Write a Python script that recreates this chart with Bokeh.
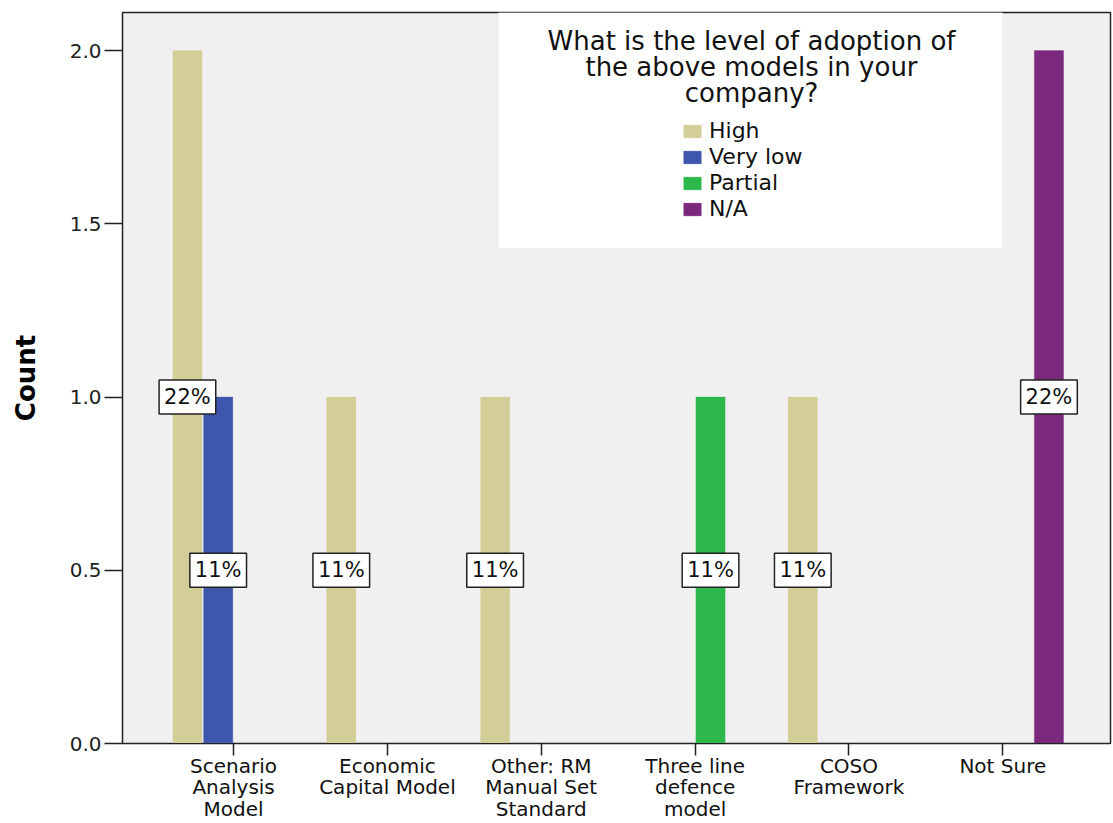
from bokeh.plotting import figure
from bokeh.models import (ColumnDataSource, Label, BoxAnnotation, Legend, LegendItem,
                          FixedTicker, Range1d)
from bokeh.embed import file_html
from bokeh.resources import INLINE

# ---------------- data ----------------
categories = ["Scenario Analysis Model", "Economic Capital Model",
              "Other: RM Manual Set Standard", "Three line defence model",
              "COSO Framework", "Not Sure"]
tick_labels = ["Scenario\nAnalysis\nModel", "Economic\nCapital Model",
               "Other: RM\nManual Set\nStandard", "Three line\ndefence\nmodel",
               "COSO\nFramework", "Not Sure"]
series_names = ["High", "Very low", "Partial", "N/A"]
high = [2, 1, 1, 0, 1, 0]
very_low = [1, 0, 0, 0, 0, 0]
partial = [0, 0, 0, 1, 0, 0]
na = [0, 0, 0, 0, 0, 2]
total_n = 9
legend_title = ["What is the level of adoption of", "the above models in your", "company?"]
y_ticks = [0.0, 0.5, 1.0, 1.5, 2.0]

colors = ["#D3CE97", "#3E56AB", "#2DB84C", "#7B297D"]
series_values = [high, very_low, partial, na]

FONT = "DejaVu Sans"

p = figure(width=1113, height=823, x_range=Range1d(-0.722, 5.70), y_range=Range1d(0, 2.11),
           output_backend="svg", toolbar_location=None,
           min_border_left=122, min_border_right=3, min_border_top=12, min_border_bottom=80)

p.background_fill_color = "#F0F0F0"
p.border_fill_color = "white"
p.outline_line_color = "#222222"
p.outline_line_width = 1.5
p.xgrid.visible = False
p.ygrid.visible = False

slot = 0.2
bar_w = 0.19
renderers = []
for j, (name, vals, col) in enumerate(zip(series_names, series_values, colors)):
    xs, tops, pcts = [], [], []
    for i, v in enumerate(vals):
        if v > 0:
            xs.append(i + (j - 1.5) * slot)
            tops.append(v)
            pcts.append(f"{round(v / total_n * 100)}%")
    src = ColumnDataSource(dict(x=xs, top=tops, pct=pcts))
    r = p.vbar(x="x", top="top", bottom=0, width=bar_w, source=src,
               fill_color=col, line_color=col, line_alpha=0.3)
    renderers.append(r)
    for x, t, s in zip(xs, tops, pcts):
        p.add_layout(Label(x=x, y=t / 2, text=s, text_align="center", text_baseline="middle",
                           text_font=FONT, text_font_size="21px", text_color="#111111",
                           background_fill_color="white", border_line_color="#222222",
                           border_line_width=1.5, padding=5))

# axes
p.xaxis.ticker = FixedTicker(ticks=list(range(len(categories))))
p.xaxis.major_label_overrides = {i: t for i, t in enumerate(tick_labels)}
p.xaxis.major_tick_out = 12
p.xaxis.major_tick_in = 0
p.xaxis.minor_tick_line_color = None
p.xaxis.major_label_text_font = FONT
p.xaxis.major_label_text_font_size = "20px"
p.xaxis.major_label_text_line_height = 0.9
p.xaxis.major_label_text_color = "#111111"
p.xaxis.major_label_standoff = -2
p.xaxis.axis_line_color = "#222222"
p.xaxis.major_tick_line_color = "#222222"
p.xaxis.major_tick_line_width = 1.5

p.yaxis.ticker = FixedTicker(ticks=y_ticks)
p.yaxis.major_label_overrides = {t: f"{t:.1f}" for t in y_ticks}
p.yaxis.major_tick_out = 18
p.yaxis.major_tick_in = 0
p.yaxis.minor_tick_line_color = None
p.yaxis.major_label_text_font = FONT
p.yaxis.major_label_text_font_size = "20px"
p.yaxis.major_label_text_color = "#222222"
p.yaxis.major_label_standoff = 3
p.yaxis.axis_line_color = "#222222"
p.yaxis.major_tick_line_color = "#222222"
p.yaxis.major_tick_line_width = 1.5
p.yaxis.axis_label = "Count"
p.yaxis.axis_label_text_font = FONT
p.yaxis.axis_label_text_font_style = "bold"
p.yaxis.axis_label_text_font_size = "26px"
p.yaxis.axis_label_text_color = "black"
p.yaxis.axis_label_standoff = 26

# legend box (white) in screen units relative to frame
frame_h = 731
p.add_layout(BoxAnnotation(left=376, right=880, top=frame_h, bottom=frame_h - 236,
                           left_units="screen", right_units="screen",
                           top_units="screen", bottom_units="screen",
                           fill_color="white", fill_alpha=1.0,
                           line_color="#DDDDDD", line_width=1, level="overlay"))
for k, line in enumerate(legend_title):
    p.add_layout(Label(x=629, y=frame_h - 28 - k * 26, text=line, x_units="screen", y_units="screen",
                       text_align="center", text_baseline="middle", text_font=FONT,
                       text_font_size="26px", text_color="#111111", level="overlay"))

legend = Legend(items=[LegendItem(label=n, renderers=[r]) for n, r in zip(series_names, renderers)],
                location=(559, 522), orientation="vertical",
                background_fill_alpha=0, border_line_color=None,
                glyph_width=22, glyph_height=16, label_text_font=FONT,
                label_text_font_size="22px", label_text_color="#111111",
                label_standoff=6, spacing=1, padding=0, margin=0, label_height=24)
p.add_layout(legend)

open("out.html", "w").write(file_html(p, INLINE))
